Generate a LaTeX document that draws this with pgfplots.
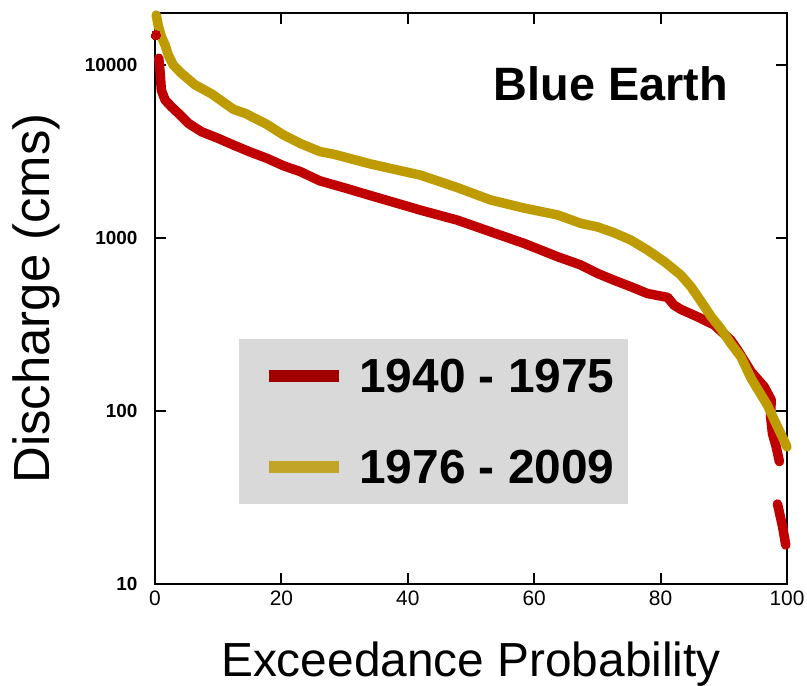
\documentclass[border=0pt]{standalone}
\usepackage{fontspec}
\setmainfont{Liberation Sans}
\usepackage{pgfplots}
\pgfplotsset{compat=1.18}
\definecolor{cred}{RGB}{192,0,0}
\definecolor{cgold}{RGB}{190,155,0}
\definecolor{lred}{RGB}{160,0,0}
\definecolor{lgold}{RGB}{194,165,40}
\definecolor{lgray}{RGB}{217,217,217}
\begin{document}
\begin{tikzpicture}
\begin{axis}[name=ax, scale only axis, width=632bp, height=571bp,
  xmin=0, xmax=100, ymode=log, ymin=10, ymax=20000,
  xtick={0,20,40,60,80,100}, xticklabels={0,20,40,60,80,100},
  ytick={10,100,1000,10000}, yticklabels={10,100,1000,10000},
  xminorticks=false, yminorticks=false,
  tick align=inside, major tick length=11bp,
  tick style={black, line width=2bp},
  axis line style={line width=2.5bp},
  x tick label style={font=\fontsize{21}{21}\selectfont, yshift=-3bp},
  y tick label style={font=\fontsize{19}{19}\selectfont\bfseries, xshift=-14bp},
  clip=false,
  unbounded coords=jump,
  legend style={at={(axis description cs:0.1329,0.1401)}, anchor=south west,
    fill=lgray, draw=none, inner xsep=13bp, inner ysep=20bp,
    row sep=57bp, column sep=14bp,
    font=\fontsize{48}{48}\selectfont\bfseries,
    nodes={inner sep=0pt, text height=34bp, text depth=0pt}},
  legend cell align=left,
  legend image code/.code={\path (0bp,0bp); \draw[#1, line width=12bp] (17bp,0bp) -- (87bp,0bp);},
]
\addplot[forget plot, only marks, color=cred, mark=*, mark size=4.75bp,
  mark options={solid, line width=0pt}] coordinates {(0.15,14900)};
\addplot[forget plot, color=cred, line width=9.5bp, line cap=round, line join=round] coordinates {
(0.6,10950) (0.8,9140) (0.9,8180) (1.0,7160) (1.6,6280) (2.6,5740) (3.7,5260)
(5.3,4600) (7.4,4110) (10.0,3770) (12.4,3450) (15.0,3150) (17.7,2890) (20.3,2620)
(23.0,2420) (26.1,2140) (30.0,1950) (34.1,1760) (38.0,1600) (42.0,1450) (47.8,1270)
(53.1,1087) (58.4,931)
(63.7,780) (67.4,698) (70.0,625) (72.6,571) (75.3,523) (77.9,478) (81.1,454)
(82.1,410) (83.2,387) (85.8,351) (88.5,314) (91.1,257) (92.2,225) (94.3,169)
(96.4,138) (97.5,116) (97.4,93) (97.7,74) (98.3,62) (98.8,51)
(98.6,nan)
(98.5,29) (99.3,21.4) (99.8,16.8)
};
\addplot[forget plot, color=cgold, line width=9.5bp, line cap=round, line join=round] coordinates {
(0.2,19450) (0.5,17000) (1.0,14600) (1.6,13060) (2.1,11430) (2.9,10000) (4.2,8950)
(6.3,7700) (9.0,6800) (12.4,5550) (14.3,5250) (17.7,4540) (20.3,3950) (23.0,3520)
(26.1,3160) (28.3,3050) (34.1,2680) (38.0,2490) (42.0,2310) (47.8,1960) (53.1,1660)
(58.4,1490) (63.7,1360) (67.4,1215) (70.0,1160) (72.6,1074) (75.3,973) (77.9,853)
(80.6,730) (83.2,611) (84.8,523) (86.4,430) (88.0,351) (89.5,300) (91.1,246)
(92.7,206) (94.3,155) (96.9,108) (98.5,81) (100,62)
};
\addlegendimage{color=lred}
\addlegendentry{1940 - 1975}
\addlegendimage{color=lgold}
\addlegendentry{1976 - 2009}
\node[anchor=base, font=\fontsize{47}{47}\selectfont\bfseries] at (axis description cs:0.7215,0.8476) {Blue Earth};
\end{axis}
\node[anchor=base, font=\fontsize{48}{48}\selectfont] at ([yshift=-92bp]ax.south) {Exceedance Probability};
\node[anchor=base, rotate=90, font=\fontsize{51}{51}\selectfont] at ([xshift=-105bp]ax.west) {Discharge (cms)};
\pgfresetboundingbox
\path[use as bounding box] ([xshift=-155bp,yshift=-102bp]ax.south west) rectangle ([xshift=20bp,yshift=13bp]ax.north east);
\end{tikzpicture}
\end{document}
